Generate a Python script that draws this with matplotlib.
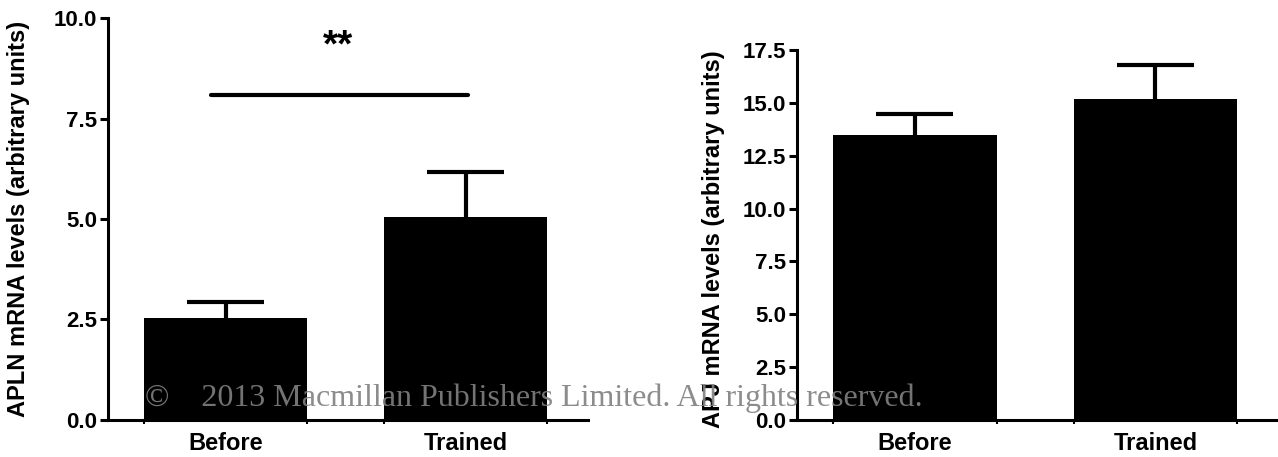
import matplotlib
matplotlib.use("Agg")
import matplotlib.pyplot as plt

# данные
groups = ["Before", "Trained"]
apln_mean = [2.53, 5.05]
apln_sem = [0.40, 1.12]
apj_mean = [13.5, 15.2]
apj_sem = [0.95, 1.6]

plt.rcParams['font.family'] = ['Liberation Sans', 'DejaVu Sans']
plt.rcParams['font.weight'] = 'bold'

fig = plt.figure(figsize=(12.78, 4.57), dpi=100)
ax1 = fig.add_axes([0.0845, 0.081, 0.3756, 0.8796])
ax2 = fig.add_axes([0.6236, 0.081, 0.3764, 0.8096])

bar_w = 0.68
cap_w = 0.16


def draw_panel(ax, means, sems, ymax, yticks, ylabel):
    x = list(range(len(groups)))
    tops = [m + s for m, s in zip(means, sems)]
    ax.bar(x, means, width=bar_w, color='black', zorder=3)
    # только верхняя половина SEM
    ax.vlines(x, means, tops, color='black', lw=3, zorder=2)
    ax.hlines(tops, [p - cap_w for p in x], [p + cap_w for p in x], color='black', lw=3, zorder=2)
    ax.set_xlim(-0.49, 1.51)
    ax.set_ylim(0, ymax)
    ax.set_yticks(yticks)
    ax.set_yticklabels([f"{t:.1f}" for t in yticks], fontsize=16, fontweight='bold')
    ax.set_xticks(x)
    ax.set_xticklabels(groups, fontsize=17, fontweight='bold')
    # маленькие засечки по краям столбцов
    edges = [p + d for p in x for d in (-bar_w / 2, bar_w / 2)]
    ax.set_xticks(edges, minor=True)
    ax.tick_params(axis='x', which='major', length=0, pad=9)
    ax.tick_params(axis='x', which='minor', length=3, width=1.5)
    ax.tick_params(axis='y', length=6, width=2.2, pad=2)
    for s in ['top', 'right']:
        ax.spines[s].set_visible(False)
    for s in ['left', 'bottom']:
        ax.spines[s].set_linewidth(2.2)
    ax.set_ylabel(ylabel, fontsize=17, fontweight='bold')


draw_panel(ax1, apln_mean, apln_sem, 10.0, [0, 2.5, 5.0, 7.5, 10.0],
           "APLN mRNA levels (arbitrary units)")
draw_panel(ax2, apj_mean, apj_sem, 17.5, [0, 2.5, 5.0, 7.5, 10.0, 12.5, 15.0, 17.5],
           "APJ mRNA levels (arbitrary units)")
ax1.yaxis.set_label_coords(-0.163, 0.5)
ax2.yaxis.set_label_coords(-0.15, 0.49)

# линия значимости
ax1.plot([-0.06, 1.01], [8.08, 8.08], color='black', lw=3, solid_capstyle='round')
ax1.text(0.47, 9.3, "**", ha='center', va='center', fontsize=28, fontweight='bold')

# водяной знак
fig.text(0.1135, 0.129, "\u00a9    2013 Macmillan Publishers Limited. All rights reserved.",
         fontsize=23, color='#808080', alpha=0.9, family=['Liberation Serif', 'DejaVu Serif'],
         fontweight='normal', va='center', ha='left', zorder=10)

plt.savefig("out.png", dpi=100)
plt.close()
